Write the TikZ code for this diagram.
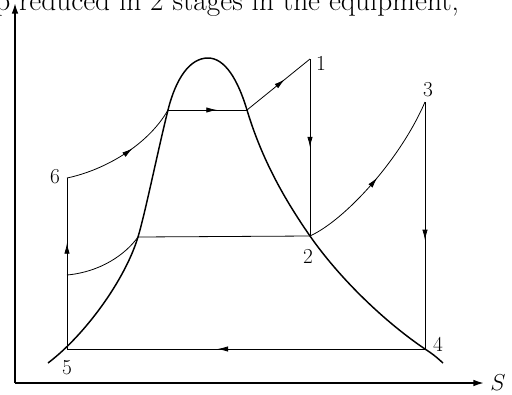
\documentclass[tikz,border=0pt]{standalone}
\usepackage{tikz}
\usetikzlibrary{arrows.meta, decorations.markings}

\begin{document}
\begin{tikzpicture}[
    x=0.75pt, y=-0.75pt,
    font=\fontsize{16}{19}\selectfont,
    axis/.style={line width=1.2pt, -{Latex[length=8pt, width=5pt]}},
    dome/.style={line width=1.1pt},
    cycleline/.style={line width=0.6pt},
    flow/.style={cycleline, postaction={decorate}, decoration={markings, mark=at position #1 with {\arrow{Latex[length=8pt, width=4pt]}}}},
    flow/.default=0.58,
    statelabel/.style={inner sep=0pt}
]
    \useasboundingbox (0,0) rectangle (512,394);

    % Page text above
    \node[anchor=base west, inner sep=0pt, font=\fontsize{22}{26}\selectfont] (header) at (-5,10) {p reduced in 2 stages in the equipment,};

    % Axes
    \coordinate (origin) at (15,383);
    \coordinate (ytip) at (15,3);
    \coordinate (xtip) at (484,383);
    \draw[axis] (origin) -- (ytip);
    \draw[axis] (origin) -- (xtip);
    \node[statelabel] (S) at (498,383) {$S$};

    % States
    \coordinate (s1) at (310,59);
    \coordinate (s2) at (310,236);
    \coordinate (s3) at (425,102);
    \coordinate (s4) at (425,349);
    \coordinate (s5) at (67,349);
    \coordinate (s6) at (67,178);
    \coordinate (satL) at (168,110);
    \coordinate (satR) at (247,110);
    \coordinate (liqL) at (138,237);
    \coordinate (low6) at (67,275);
    \coordinate (top) at (208,58);

    \node[statelabel] (n1) at (321,63) {1};
    \node[statelabel] (n2) at (308,256) {2};
    \node[statelabel] (n3) at (428,90) {3};
    \node[statelabel] (n4) at (438,344) {4};
    \node[statelabel] (n5) at (67,368) {5};
    \node[statelabel] (n6) at (55,177) {6};

    % Saturation dome
    \draw[dome] (48,363) .. controls (85,335) and (125,280) .. (liqL)
        .. controls (145,214) and (158,150) .. (satL)
        .. controls (176,78) and (190,58) .. (top)
        .. controls (225,58) and (238,80) .. (satR)
        .. controls (262,160) and (285,200) .. (s2)
        .. controls (340,279) and (385,322) .. (s4)
        .. controls (434,355) .. (443,363);

    % Cycle
    \draw[flow] (s6) .. controls (105,170) and (148,145) .. (satL);
    \draw[flow=0.62] (satL) -- (satR);
    \draw[flow=0.6] (satR) -- (s1);
    \draw[flow=0.5] (s1) -- (s2);
    \draw[flow=0.5] (s2) .. controls (345,220) and (400,160) .. (s3);
    \draw[flow=0.56] (s3) -- (s4);
    \draw[flow] (s4) -- (s5);
    \draw[flow=0.62] (s5) -- (s6);
    \draw[cycleline] (low6) .. controls (100,272) and (125,255) .. (liqL);
    \draw[cycleline] (liqL) -- (s2);
\end{tikzpicture}
\end{document}
